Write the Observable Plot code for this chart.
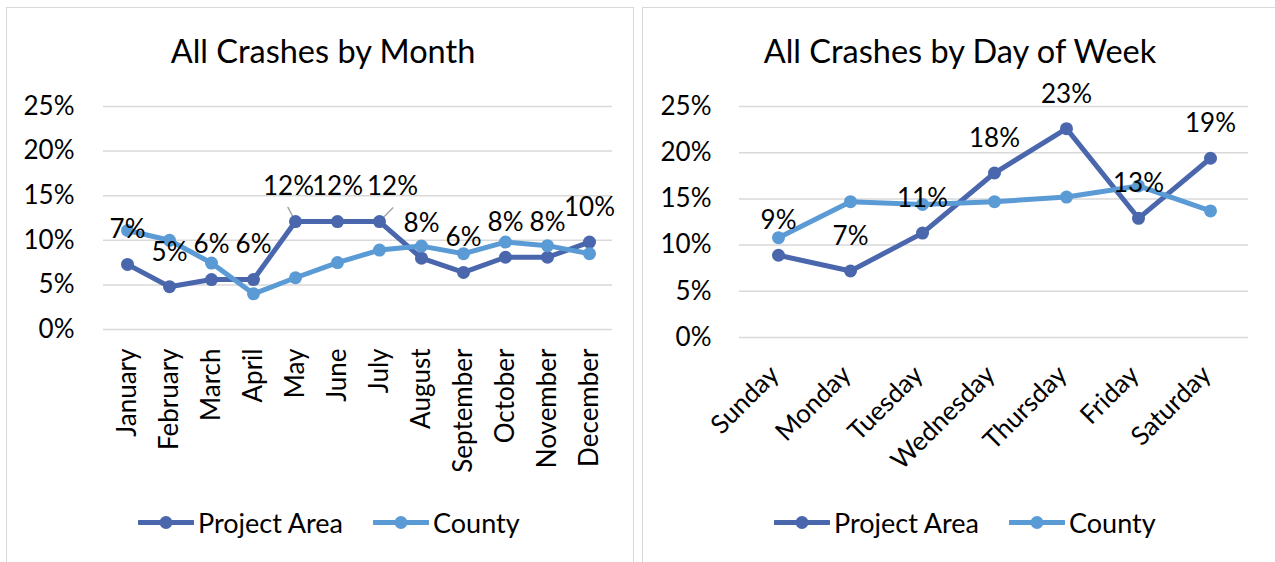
<!DOCTYPE html>
<html>
<head>
<meta charset="utf-8">
<script src="https://cdn.jsdelivr.net/npm/d3@7"></script>
<script src="https://cdn.jsdelivr.net/npm/@observablehq/plot@0.6"></script>
<style>
  body { margin: 0; background: #fff; font-family: Lato, "Open Sans", sans-serif; }
  #root { position: relative; width: 1275px; height: 562px; overflow: hidden; background: #fff; }
  .panel { position: absolute; border: 1.5px solid #d9d9d9; box-sizing: border-box; background: #fff; }
  .title { position: absolute; font-size: 32.5px; color: #000; white-space: nowrap; transform: translate(-50%, -50%); }
  .plot { position: absolute; top: 0; }
  .legend-item { position: absolute; display: flex; align-items: center; font-size: 27px; color: #000; transform: translateY(-50%); white-space: nowrap; }
  .legend-item svg { margin-right: 4px; }
</style>
</head>
<body>
<div id="root">
  <div class="panel" style="left:6px; top:7px; width:628px; height:570px;"></div>
  <div class="panel" style="left:642px; top:7px; width:650px; height:570px;"></div>
</div>
<script>
// ---- data ----
const seriesNames = ["Project Area", "County"];
const seriesColors = ["#4a66ac", "#5b9bd5"];

const months = ["January", "February", "March", "April", "May", "June", "July",
  "August", "September", "October", "November", "December"];
const monthProject = [0.073, 0.048, 0.056, 0.056, 0.121, 0.121, 0.121, 0.080, 0.064, 0.081, 0.081, 0.098];
const monthCounty  = [0.111, 0.100, 0.0745, 0.040, 0.058, 0.075, 0.089, 0.0935, 0.085, 0.098, 0.094, 0.085];

const days = ["Sunday", "Monday", "Tuesday", "Wednesday", "Thursday", "Friday", "Saturday"];
const dayProject = [0.089, 0.072, 0.113, 0.178, 0.226, 0.129, 0.194];
const dayCounty  = [0.108, 0.147, 0.144, 0.147, 0.152, 0.164, 0.137];

const yTicks = [0, 0.05, 0.10, 0.15, 0.20, 0.25];
const titles = ["All Crashes by Month", "All Crashes by Day of Week"];

const pct = d3.format(".0%");
const FS = 26;

function rowsOf(cats, a, b) {
  return cats.flatMap((c, i) => [
    {cat: c, series: seriesNames[0], value: a[i], i},
    {cat: c, series: seriesNames[1], value: b[i], i}
  ]);
}

const leaderShape = {
  draw(context, l) { context.moveTo(0, 0); context.lineTo(0, -l); }
};

function makeChart(cats, a, b, opts) {
  const rows = rowsOf(cats, a, b);
  const pa = rows.filter(d => d.series === seriesNames[0]);
  const co = rows.filter(d => d.series === seriesNames[1]);
  const marks = [
    Plot.gridY(yTicks, {stroke: "#d9d9d9", strokeOpacity: 1, strokeWidth: 1.5}),
    Plot.axisY(yTicks, {tickFormat: pct, tickSize: 0, tickPadding: opts.yPad, fontSize: FS}),
    Plot.axisX({tickSize: 0, tickRotate: opts.rotate, tickPadding: opts.xPad, fontSize: FS, dx: opts.xdx || 0}),
  ];
  if (opts.leaders) marks.push(...opts.leaders(pa));
  marks.push(
    Plot.line(pa, {x: "cat", y: "value", stroke: seriesColors[0], strokeWidth: 5}),
    Plot.dot(pa, {x: "cat", y: "value", r: 6.5, fill: seriesColors[0]}),
    Plot.line(co, {x: "cat", y: "value", stroke: seriesColors[1], strokeWidth: 5}),
    Plot.dot(co, {x: "cat", y: "value", r: 6.5, fill: seriesColors[1]})
  );
  marks.push(...opts.labels(pa));
  return Plot.plot({
    width: opts.width, height: 500,
    marginTop: opts.mt, marginBottom: opts.mb, marginLeft: opts.ml, marginRight: opts.mr,
    x: {type: "point", domain: cats, padding: 0.5, label: null},
    y: {domain: [0, 0.25], label: null},
    style: {fontFamily: "Lato, 'Open Sans', sans-serif", fontSize: FS + "px", color: "#000", background: "transparent", overflow: "visible"},
    marks
  });
}

const labelStyle = {fontSize: FS, fill: "#000", dy: -34.5};

const left = makeChart(months, monthProject, monthCounty, {
  width: 640, mt: 106, mb: 171, ml: 103, mr: 28, yPad: 29, xPad: 19, rotate: -90,
  leaders: pa => [
    Plot.vector(pa.filter(d => d.cat === "May"), {x: "cat", y: "value", length: 16, rotate: -28, anchor: "start", shape: leaderShape, stroke: "#a6a6a6", strokeWidth: 1.5}),
    Plot.vector(pa.filter(d => d.cat === "July"), {x: "cat", y: "value", length: 19, rotate: 44, anchor: "start", shape: leaderShape, stroke: "#a6a6a6", strokeWidth: 1.5})
  ],
  labels: pa => [
    Plot.text(pa.filter(d => d.cat !== "May" && d.cat !== "July"), {x: "cat", y: "value", text: d => pct(d.value), ...labelStyle}),
    Plot.text(pa.filter(d => d.cat === "May"), {x: "cat", y: "value", text: d => pct(d.value), ...labelStyle, dx: -7}),
    Plot.text(pa.filter(d => d.cat === "July"), {x: "cat", y: "value", text: d => pct(d.value), ...labelStyle, dx: 13})
  ]
});

const right = makeChart(days, dayProject, dayCounty, {
  width: 635, mt: 106, mb: 163, ml: 99, mr: 27, yPad: 28, xPad: 33, rotate: -45, xdx: -4,
  labels: pa => [
    Plot.text(pa, {x: "cat", y: "value", text: d => pct(d.value), ...labelStyle})
  ]
});

const root = document.getElementById("root");
left.classList.add("plot"); left.style.left = "0px";
right.classList.add("plot"); right.style.left = "640px";
root.appendChild(left);
root.appendChild(right);

function addTitle(text, cx) {
  const t = document.createElement("div");
  t.className = "title"; t.textContent = text;
  t.style.left = cx + "px"; t.style.top = "50px";
  root.appendChild(t);
}
addTitle(titles[0], 323);
addTitle(titles[1], 960);

function addLegend(x, idx) {
  const item = document.createElement("div");
  item.className = "legend-item";
  item.style.left = x + "px"; item.style.top = "522px";
  const ns = "http://www.w3.org/2000/svg";
  const s = document.createElementNS(ns, "svg");
  s.setAttribute("width", 56); s.setAttribute("height", 14);
  const ln = document.createElementNS(ns, "line");
  ln.setAttribute("x1", 1); ln.setAttribute("x2", 55); ln.setAttribute("y1", 7); ln.setAttribute("y2", 7);
  ln.setAttribute("stroke", seriesColors[idx]); ln.setAttribute("stroke-width", 5); ln.setAttribute("stroke-linecap", "round");
  const c = document.createElementNS(ns, "circle");
  c.setAttribute("cx", 28); c.setAttribute("cy", 7); c.setAttribute("r", 6.5); c.setAttribute("fill", seriesColors[idx]);
  s.appendChild(ln); s.appendChild(c);
  const sp = document.createElement("span"); sp.textContent = seriesNames[idx];
  item.appendChild(s); item.appendChild(sp);
  root.appendChild(item);
}
addLegend(138, 0); addLegend(373, 1);
addLegend(774, 0); addLegend(1009, 1);
</script>
</body>
</html>
